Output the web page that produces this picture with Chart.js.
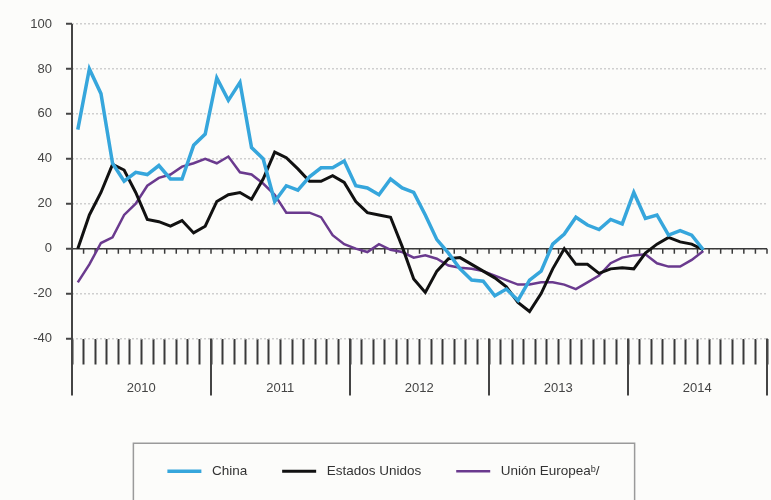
<!DOCTYPE html>
<html>
<head>
<meta charset="utf-8">
<script src="https://cdn.jsdelivr.net/npm/chart.js@4.4.1/dist/chart.umd.min.js"></script>
<style>
  html, body { margin: 0; padding: 0; background: #fcfcfa; }
  #wrap { width: 771px; height: 500px; }
</style>
</head>
<body>
<div id="wrap"><canvas id="chart"></canvas></div>
<script>
const years = ['2010', '2011', '2012', '2013', '2014'];
const monthNames = ['Ene', 'Feb', 'Mar', 'Abr', 'May', 'Jun', 'Jul', 'Ago', 'Sep', 'Oct', 'Nov', 'Dic'];
const months = years.flatMap(y => monthNames.map(m => m + ' ' + y));

const china = [
  53, 80, 69, 38, 30, 34, 33, 37, 31, 31, 46, 51,
  76, 66, 74, 45, 40, 21, 28, 26, 32, 36, 36, 39,
  28, 27, 24, 31, 27, 25, 15, 4, -2, -9, -14, -14.5,
  -21, -18, -23, -14, -10, 2, 6.5, 14, 10.5, 8.5, 13, 11,
  25, 13.5, 15, 6, 8, 6, -0.5
];
const estadosUnidos = [
  0, 15, 25, 37.5, 35, 25, 13, 12, 10, 12.5, 7, 10,
  21, 24, 25, 22, 31, 43, 40.5, 35.5, 30, 30, 32.5, 29.5,
  21, 16, 15, 14, 1, -13.5, -19.5, -10, -4.5, -4, -7, -10,
  -13, -17, -24, -28, -20, -9, 0, -7, -7, -11, -9, -8.5,
  -9, -2, 2, 5, 3, 2, -0.5
];
const unionEuropea = [
  -15, -7, 2.5, 5, 15, 20, 28, 31.5, 33, 36.5, 38, 40,
  38, 41, 34, 33, 29, 24, 16, 16, 16, 14, 6, 2,
  0, -1.5, 2, -0.5, -1.5, -4, -3, -4.5, -7.5, -8.5, -9, -10,
  -12, -14, -16, -16, -15, -15, -16, -18, -15, -12, -6.5, -4,
  -3, -2.5, -6.5, -8, -8, -5, -1
];
const yTicks = [-40, -20, 0, 20, 40, 60, 80, 100];

const textFont = { family: '"Liberation Sans", Arial, sans-serif', size: 13 };

// zero line, month ticks, year separators and the long y axis line
const axisDecor = {
  id: 'axisDecor',
  beforeDatasetsDraw(chart) {
    const { ctx, chartArea: a, scales: { x, y } } = chart;
    const step = x.getPixelForValue(1) - x.getPixelForValue(0);
    const edge = i => x.getPixelForValue(i) - step / 2;
    const y0 = y.getPixelForValue(0);
    const bottom = a.bottom + 57;
    ctx.save();
    ctx.strokeStyle = '#3a3a3a';
    ctx.lineWidth = 1.5;
    ctx.beginPath();
    ctx.moveTo(a.left, y0);
    ctx.lineTo(a.right, y0);
    for (let i = 1; i <= months.length; i++) {
      ctx.moveTo(edge(i), y0);
      ctx.lineTo(edge(i), y0 + 5);
    }
    ctx.stroke();
    ctx.lineWidth = 2;
    ctx.strokeStyle = '#444';
    ctx.beginPath();
    ctx.moveTo(a.left, a.top);
    ctx.lineTo(a.left, bottom);
    for (let i = 12; i <= months.length; i += 12) {
      ctx.moveTo(edge(i), a.bottom);
      ctx.lineTo(edge(i), bottom);
    }
    ctx.stroke();
    ctx.restore();
  },
  afterDraw(chart) {
    const boxes = chart.legend.legendHitBoxes;
    if (!boxes || !boxes.length) return;
    const first = boxes[0];
    const last = boxes[boxes.length - 1];
    const cy = first.top + first.height / 2;
    const left = first.left - 34;
    const right = last.left + last.width + 35;
    const ctx = chart.ctx;
    ctx.save();
    ctx.strokeStyle = '#9a9a9a';
    ctx.lineWidth = 1.5;
    ctx.strokeRect(left, cy - 28, right - left, 80);
    ctx.restore();
  }
};

new Chart(document.getElementById('chart'), {
  type: 'line',
  data: {
    labels: months,
    datasets: [{
      label: 'China',
      data: china,
      borderColor: '#36a6dc',
      backgroundColor: '#36a6dc',
      borderWidth: 3.5
    }, {
      label: 'Estados Unidos',
      data: estadosUnidos,
      borderColor: '#111111',
      backgroundColor: '#111111',
      borderWidth: 3
    }, {
      label: 'Unión Europeaᵇ/',
      data: unionEuropea,
      borderColor: '#6a3a8e',
      backgroundColor: '#6a3a8e',
      borderWidth: 2.5
    }]
  },
  options: {
    responsive: true,
    maintainAspectRatio: false,
    animation: false,
    layout: {
      padding: { top: 24, right: 4, bottom: 12, left: 0 }
    },
    elements: {
      point: { radius: 0 },
      line: { tension: 0 }
    },
    scales: {
      x: {
        offset: true,
        grid: {
          offset: true,
          drawOnChartArea: false,
          tickLength: 26,
          tickWidth: 2,
          tickColor: '#3a3a3a'
        },
        border: { display: false },
        ticks: {
          autoSkip: false,
          maxRotation: 0,
          minRotation: 0,
          padding: 16,
          labelOffset: -6,
          color: '#444',
          font: textFont,
          callback: (v, i) => i % 12 === 6 ? years[Math.floor(i / 12)] : ''
        },
        afterFit(scale) {
          scale.height = 91;
          scale.paddingLeft = 0;
          scale.paddingRight = 0;
        }
      },
      y: {
        min: -40,
        max: 100,
        afterBuildTicks(scale) {
          scale.ticks = yTicks.map(v => ({ value: v }));
        },
        grid: {
          color: '#cfcfcf',
          lineWidth: 1.5,
          tickLength: 6,
          tickColor: '#444',
          tickWidth: 2,
          tickBorderDash: []
        },
        border: { display: false, dash: [2, 2] },
        ticks: {
          padding: 14,
          color: '#444',
          font: textFont
        },
        afterFit(scale) {
          scale.width = 72;
        }
      }
    },
    plugins: {
      legend: {
        position: 'bottom',
        labels: {
          usePointStyle: true,
          pointStyle: 'line',
          pointStyleWidth: 34,
          padding: 35,
          color: '#333',
          font: { family: textFont.family, size: 13.5 },
          generateLabels(chart) {
            const items = Chart.defaults.plugins.legend.labels.generateLabels(chart);
            items.forEach(item => { item.text = ' ' + item.text; });
            return items;
          }
        }
      },
      tooltip: { enabled: false }
    }
  },
  plugins: [axisDecor]
});
</script>
</body>
</html>
